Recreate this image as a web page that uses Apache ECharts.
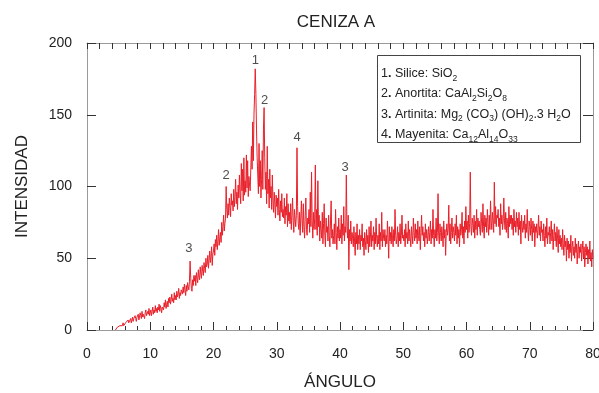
<!DOCTYPE html>
<html><head><meta charset="utf-8">
<script src="https://cdn.jsdelivr.net/npm/echarts@6/dist/echarts.min.js"></script>
<style>html,body{margin:0;padding:0;background:#fff}#c{width:599px;height:393px}</style>
</head><body><div id="c"></div>
<script>
// Diffraction pattern: intensity read every 0.1 degree, starting at 4.5 degrees
const angleStart = 4.5;
const angleStep = 0.1;
const intensityRows = [
  [0,1,0,2,1],
  [2,1,3,2,4,2,3,5,3,4],
  [3,5,4,6,4,7,5,4,6,8],
  [5,7,9,6,8,7,10,8,6,9],
  [8,11,7,9,12,10,8,13,9,11],
  [10,8,12,14,10,9,13,11,15,10],
  [12,14,10,13,16,11,14,12,17,13],
  [15,12,16,14,18,13,17,15,12,16],
  [17,14,19,16,21,15,18,20,16,22],
  [19,23,18,21,25,20,22,19,26,21],
  [24,21,27,23,25,29,22,26,24,28],
  [27,25,30,26,32,28,24,31,27,33],
  [30,28,34,48,36,29,27,35,31,38],
  [34,38,31,40,36,33,42,37,35,44],
  [39,36,45,41,38,47,43,40,50,44],
  [46,52,43,49,55,47,51,58,45,53],
  [55,60,52,63,58,66,56,62,70,59],
  [64,68,61,75,66,72,80,69,74,78],
  [100,84,78,88,80,92,86,79,95,87],
  [90,83,98,86,93,105,88,96,84,101],
  [92,108,95,88,116,97,112,90,120,94],
  [104,96,122,99,118,93,107,101,97,113],
  [128,112,145,118,150,164,182,165,140,120],
  [108,95,130,100,118,92,105,125,98,140],
  [155,120,98,110,88,128,95,105,85,112],
  [92,100,84,108,90,82,96,88,78,94],
  [86,92,80,98,84,76,90,82,95,79],
  [84,78,92,74,86,80,95,72,88,76],
  [82,74,88,70,80,92,76,68,84,78],
  [72,80,127,86,74,70,82,66,78,90],
  [76,68,88,72,64,80,92,70,66,78],
  [74,84,68,96,72,110,76,64,82,70],
  [78,115,70,84,66,104,72,80,62,76],
  [70,64,82,60,74,88,66,58,78,68],
  [72,62,80,66,58,76,90,64,70,60],
  [66,74,60,84,68,56,72,64,78,62],
  [70,64,80,60,74,66,86,62,72,68],
  [108,72,64,80,42,70,62,76,60,68],
  [64,58,72,62,52,68,60,74,56,66],
  [60,70,56,66,62,74,58,64,52,68],
  [62,56,70,60,66,54,72,58,64,76],
  [58,66,62,72,56,68,60,78,64,58],
  [66,60,74,56,68,62,82,58,70,64],
  [62,70,58,66,60,76,64,50,72,62],
  [68,60,72,64,58,70,62,84,66,60],
  [64,72,58,68,62,74,60,66,80,64],
  [66,62,70,58,74,64,68,60,76,62],
  [70,64,58,72,66,60,78,68,62,74],
  [64,70,60,76,66,62,72,56,68,80],
  [66,72,62,68,58,74,64,70,60,66],
  [72,62,68,76,60,70,64,84,66,58],
  [70,64,78,62,68,95,66,60,74,68],
  [62,72,66,58,76,64,70,52,68,74],
  [66,70,87,62,74,60,68,78,64,72],
  [68,62,74,66,80,60,72,64,70,58],
  [74,66,70,82,64,72,60,76,68,86],
  [70,76,64,80,68,74,110,72,66,78],
  [74,68,80,64,76,70,84,66,78,72],
  [76,70,66,82,74,68,88,72,64,80],
  [72,78,68,84,74,66,80,70,90,76],
  [70,82,76,68,103,74,86,72,80,78],
  [84,72,78,66,88,74,80,70,76,92],
  [76,70,82,68,78,74,64,86,72,80],
  [74,80,70,78,66,84,72,76,68,82],
  [72,78,66,82,70,76,60,80,72,68],
  [76,70,80,64,74,68,84,70,62,76],
  [72,66,78,70,62,76,68,74,58,72],
  [68,74,64,70,80,66,72,62,76,68],
  [70,62,74,66,58,72,64,78,60,68],
  [66,72,60,68,76,62,70,56,66,74],
  [62,68,58,72,64,54,70,60,66,58],
  [64,56,70,60,52,66,58,62,48,64],
  [56,62,50,60,54,66,48,58,62,52],
  [58,50,64,54,60,46,56,62,50,58],
  [54,60,48,56,62,50,58,44,54,60],
  [52,58,46,56,50,62,48,54,44,56],
  [50]
];
const intensities = intensityRows.flat();
const angles = intensities.map((_, i) => +(angleStart + i * angleStep).toFixed(1));

// Peak annotations
const peakLabels = ['3', '2', '1', '2', '4', '3'];
const peakAngles = [16.1, 22.0, 26.6, 28.1, 33.2, 40.8];
const peakLabelY = [57, 108, 188, 160, 134, 113];

const xTicks = [0, 10, 20, 30, 40, 50, 60, 70, 80];
const yTicks = [0, 50, 100, 150, 200];

const FONT = 'Liberation Sans, Arial, sans-serif';
const chart = echarts.init(document.getElementById('c'));
const frameCol = '#9a9a9a';
const tickCol = '#333';

const baseX = {
  type: 'value', min: xTicks[0], max: xTicks[xTicks.length - 1], interval: 10,
  axisLine: { show: true, onZero: false, lineStyle: { color: frameCol, width: 1 } },
  splitLine: { show: false },
};
const baseY = {
  type: 'value', min: yTicks[0], max: yTicks[yTicks.length - 1], interval: 50,
  axisLine: { show: true, onZero: false, lineStyle: { color: frameCol, width: 1 } },
  splitLine: { show: false },
};

const subRich = {
  b: { fontSize: 12.5, fontWeight: 'bold', fontFamily: FONT, lineHeight: 18 },
  s: { fontSize: 8.5, fontFamily: FONT, verticalAlign: 'bottom', lineHeight: 9 }
};
function legendLine(y, text) {
  return { type: 'text', x: 381, y: y, z: 11, style: {
    text: text, fontFamily: FONT, fontSize: 12.5, lineHeight: 18, fill: '#222',
    verticalAlign: 'middle', rich: subRich } };
}

chart.setOption({
  animation: false,
  backgroundColor: '#fff',
  title: {
    text: 'CENIZA A', left: 331, top: 9, textAlign: 'center',
    textStyle: { fontFamily: FONT, fontSize: 17, fontWeight: 'normal', color: '#222' }
  },
  grid: { left: 87, right: 6, top: 43, bottom: 63, outerBoundsMode: 'none', containLabel: false },
  xAxis: [
    Object.assign({}, baseX, {
      position: 'bottom',
      name: 'ÁNGULO', nameLocation: 'middle', nameGap: 44,
      nameTextStyle: { fontFamily: FONT, fontSize: 17, color: '#222' },
      axisTick: { show: true, inside: true, length: 8, lineStyle: { color: tickCol } },
      minorTick: { show: true, splitNumber: 5, length: 4, lineStyle: { color: tickCol } },
      axisLabel: { fontFamily: FONT, fontSize: 14, color: '#222', margin: 17 }
    }),
    Object.assign({}, baseX, {
      position: 'top', interval: 2,
      axisTick: { show: true, inside: true, length: 6, lineStyle: { color: tickCol } },
      axisLabel: { show: false }
    })
  ],
  yAxis: [
    Object.assign({}, baseY, {
      position: 'left',
      name: 'INTENSIDAD', nameLocation: 'middle', nameGap: 56,
      nameTextStyle: { fontFamily: FONT, fontSize: 17, color: '#222' },
      axisTick: { show: true, inside: true, length: 9, lineStyle: { color: tickCol } },
      axisLabel: { fontFamily: FONT, fontSize: 14, color: '#222', margin: 15 }
    }),
    Object.assign({}, baseY, {
      position: 'right',
      axisTick: { show: true, inside: true, length: 10, lineStyle: { color: tickCol } },
      axisLabel: { show: false }
    })
  ],
  series: [
    {
      type: 'line', xAxisIndex: 0, yAxisIndex: 0,
      data: angles.map((a, i) => [a, intensities[i]]),
      showSymbol: false, symbol: 'none',
      lineStyle: { color: '#e8202a', width: 1 },
      z: 3
    },
    {
      type: 'scatter', xAxisIndex: 0, yAxisIndex: 0,
      symbolSize: 1, itemStyle: { color: 'rgba(0,0,0,0)' },
      data: peakAngles.map((a, i) => ({ value: [a, peakLabelY[i]], name: peakLabels[i] })),
      label: {
        show: true, position: 'inside', formatter: p => p.name,
        fontFamily: FONT, fontSize: 13, color: '#222'
      },
      z: 5
    }
  ],
  graphic: [
    { type: 'rect', shape: { x: 377.5, y: 55.5, width: 203, height: 87 },
      style: { fill: '#fff', stroke: '#444', lineWidth: 1 }, z: 10 },
    legendLine(74, '1{b|.} Silice: SiO{s|2}'),
    legendLine(94, '2{b|.} Anortita: CaAl{s|2}Si{s|2}O{s|8}'),
    legendLine(114.5, '3{b|.} Artinita: Mg{s|2} (CO{s|3}) (OH){s|2}.3 H{s|2}O'),
    legendLine(135, '4{b|.} Mayenita: Ca{s|12}Al{s|14}O{s|33}')
  ]
});
</script></body></html>
